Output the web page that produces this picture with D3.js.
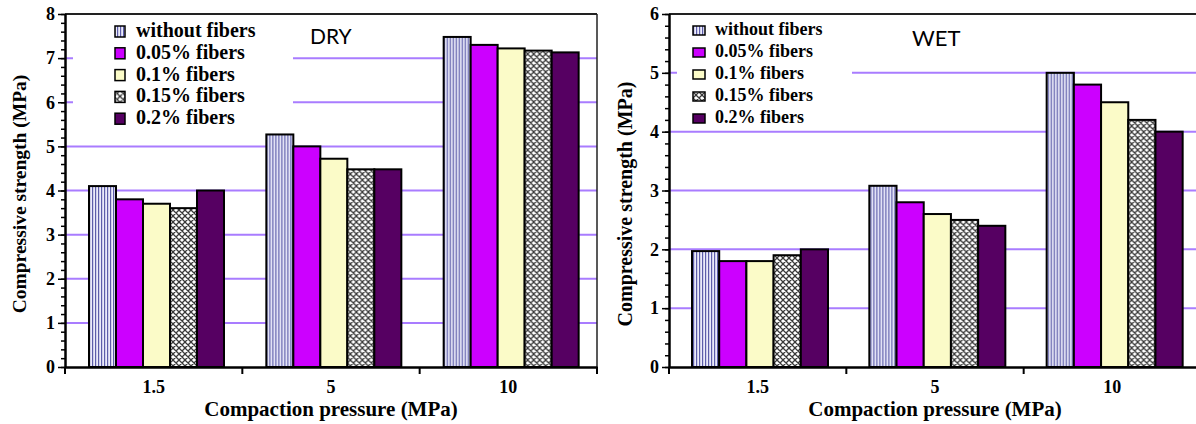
<!DOCTYPE html>
<html><head><meta charset="utf-8">
<script src="https://cdn.jsdelivr.net/npm/d3@7"></script>
<style>
html,body{margin:0;padding:0;background:#fff;}
svg{display:block;}
.sf{font-family:"Liberation Serif","DejaVu Serif",serif;font-weight:bold;}
</style></head>
<body>
<svg id="chart" width="1196" height="424"></svg>
<script>
// ---- data ----
const categories = ["1.5", "5", "10"];
const series = ["without fibers", "0.05% fibers", "0.1% fibers", "0.15% fibers", "0.2% fibers"];
const dryValues = [
  [4.1, 3.8, 3.7, 3.6, 4.0],
  [5.27, 5.0, 4.72, 4.48, 4.48],
  [7.48, 7.3, 7.22, 7.17, 7.13]
];
const wetValues = [
  [1.97, 1.8, 1.8, 1.9, 2.0],
  [3.08, 2.8, 2.6, 2.5, 2.4],
  [5.0, 4.8, 4.5, 4.2, 4.0]
];
const dryTicks = [0, 1, 2, 3, 4, 5, 6, 7, 8];
const wetTicks = [0, 1, 2, 3, 4, 5, 6];
const yTitle = "Compressive strength (MPa)";
const xTitle = "Compaction pressure (MPa)";

// ---- styles ----
const fills = ["url(#stripes)", "#cc00ff", "#fbfbc8", "url(#hatch)", "#560062"];
const gridColor = "#a97cff";

const svg = d3.select("#chart");
const defs = svg.append("defs");
const st = defs.append("pattern").attr("id", "stripes").attr("patternUnits", "userSpaceOnUse")
  .attr("width", 3).attr("height", 6);
st.append("rect").attr("width", 3).attr("height", 6).attr("fill", "#ececfa");
st.append("rect").attr("x", 0).attr("width", 1.2).attr("height", 6).attr("fill", "#5e5eaa");
const ht = defs.append("pattern").attr("id", "hatch").attr("patternUnits", "userSpaceOnUse")
  .attr("width", 6).attr("height", 6);
ht.append("rect").attr("width", 6).attr("height", 6).attr("fill", "#ffffff");
ht.append("path").attr("d", "M-1,1 L1,-1 M0,6 L6,0 M5,7 L7,5 M-1,5 L1,7 M0,0 L6,6 M5,-1 L7,1")
  .attr("stroke", "#3a3a3a").attr("stroke-width", 1.3);

function panel(cfg) {
  const g = svg.append("g");
  const x = d3.scaleBand().domain(categories).range([cfg.x0, cfg.x1]).paddingInner(0).paddingOuter(0);
  const xs = d3.scaleBand().domain(series).range([cfg.gOff, cfg.gOff + cfg.gW]).padding(0);
  const y = d3.scaleLinear().domain([0, cfg.ticks[cfg.ticks.length - 1]]).range([cfg.yBot, cfg.yTop]);

  // gridlines
  g.append("g").selectAll("line").data(cfg.ticks.slice(1, -1)).join("line")
    .attr("x1", cfg.x0).attr("x2", cfg.x1)
    .attr("y1", d => y(d)).attr("y2", d => y(d))
    .attr("stroke", gridColor).attr("stroke-width", 2);

  // legend background box (hides gridlines)
  g.append("rect").attr("x", cfg.box[0]).attr("y", cfg.box[1]).attr("width", cfg.box[2]).attr("height", cfg.box[3])
    .attr("fill", "#fff");

  // bars
  const grp = g.append("g").selectAll("g").data(cfg.values).join("g")
    .attr("transform", (d, i) => `translate(${x(categories[i])},0)`);
  grp.selectAll("rect").data(d => d).join("rect")
    .attr("x", (d, j) => xs(series[j]))
    .attr("y", d => y(d))
    .attr("width", xs.bandwidth())
    .attr("height", d => y(0) - y(d))
    .attr("fill", (d, j) => fills[j])
    .attr("stroke", "#000").attr("stroke-width", 2);

  // frame: top & right
  g.append("line").attr("x1", cfg.x0).attr("x2", cfg.x1).attr("y1", cfg.yTop).attr("y2", cfg.yTop)
    .attr("stroke", "#222").attr("stroke-width", 2);
  g.append("line").attr("x1", cfg.x1).attr("x2", cfg.x1).attr("y1", cfg.yTop).attr("y2", cfg.yBot)
    .attr("stroke", "#222").attr("stroke-width", 1.5);

  // y axis minor
  const minor = d3.range(0, cfg.ticks[cfg.ticks.length - 1] + 0.001, 0.2);
  const yMinor = g.append("g").attr("transform", `translate(${cfg.x0},0)`)
    .call(d3.axisLeft(y).tickValues(minor).tickSize(4).tickFormat(""));
  yMinor.select(".domain").remove();
  yMinor.selectAll("line").attr("stroke", "#000").attr("stroke-width", 1.5);
  // y axis major
  const yAx = g.append("g").attr("transform", `translate(${cfg.x0},0)`)
    .call(d3.axisLeft(y).tickValues(cfg.ticks).tickSize(7).tickPadding(3).tickFormat(d3.format("d")));
  yAx.attr("font-family", null).attr("font-size", null);
  yAx.select(".domain").attr("stroke", "#000").attr("stroke-width", 2.5).attr("d", `M0.5,${cfg.yTop}V${cfg.yBot}`);
  yAx.selectAll("line").attr("stroke", "#000").attr("stroke-width", 1.5);
  yAx.selectAll("text").attr("class", "sf").style("font-size", "18px").attr("fill", "#000");

  // x axis
  const xAx = g.append("g").attr("transform", `translate(0,${cfg.yBot})`)
    .call(d3.axisBottom(x).tickSize(0).tickPadding(13));
  xAx.attr("font-family", null).attr("font-size", null);
  xAx.select(".domain").attr("stroke", "#000").attr("stroke-width", 2.5);
  xAx.selectAll("text").attr("class", "sf").style("font-size", "18px").attr("fill", "#000");
  const bounds = categories.map(c => x(c)).concat([cfg.x1]);
  g.append("g").selectAll("line").data(bounds).join("line")
    .attr("x1", d => d).attr("x2", d => d).attr("y1", cfg.yBot).attr("y2", cfg.yBot + 7)
    .attr("stroke", "#000").attr("stroke-width", 2);

  // titles
  g.append("text").attr("class", "sf").attr("x", (cfg.x0 + cfg.x1) / 2).attr("y", 416).attr("text-anchor", "middle")
    .style("font-size", "21px").text(xTitle);
  g.append("text").attr("class", "sf").attr("transform", `translate(${cfg.yt[0]},${cfg.yt[1]}) rotate(-90)`).attr("text-anchor", "middle")
    .style("font-size", cfg.ytSize + "px").text(yTitle);

  // legend
  const lg = g.append("g").selectAll("g").data(series).join("g")
    .attr("transform", (d, i) => `translate(0,${cfg.leg.y0 + i * cfg.leg.dy})`);
  lg.append("rect").attr("x", cfg.leg.sx).attr("y", -cfg.leg.sh).attr("width", cfg.leg.sw).attr("height", cfg.leg.sh)
    .attr("fill", (d, i) => fills[i]).attr("stroke", "#000").attr("stroke-width", 1.5);
  lg.append("text").attr("class", "sf").attr("x", cfg.leg.tx).attr("y", 0)
    .style("font-size", cfg.leg.fs + "px").text(d => d);

  // label
  g.append("text").attr("x", cfg.label[0]).attr("y", cfg.label[1])
    .style("font-family", "Lato, 'Open Sans', sans-serif").style("font-size", cfg.label[3] + "px").attr("fill", "#000")
    .text(cfg.label[2]);
}

panel({
  x0: 65, x1: 597, yTop: 14, yBot: 367, gOff: 24, gW: 135,
  values: dryValues, ticks: dryTicks,
  box: [73, 17, 220, 112],
  yt: [26, 194], ytSize: 19.5,
  leg: { y0: 37, dy: 21.8, sx: 115, sw: 10, sh: 11, tx: 136, fs: 20 },
  label: [310, 44, "DRY", 21]
});
panel({
  x0: 669, x1: 1201, yTop: 14, yBot: 367, gOff: 23, gW: 136,
  values: wetValues, ticks: wetTicks,
  box: [677, 17, 175, 110],
  yt: [632, 204], ytSize: 20,
  leg: { y0: 35, dy: 22, sx: 693, sw: 12, sh: 9, tx: 715, fs: 18 },
  label: [912, 46, "WET", 22]
});
</script>
</body></html>
